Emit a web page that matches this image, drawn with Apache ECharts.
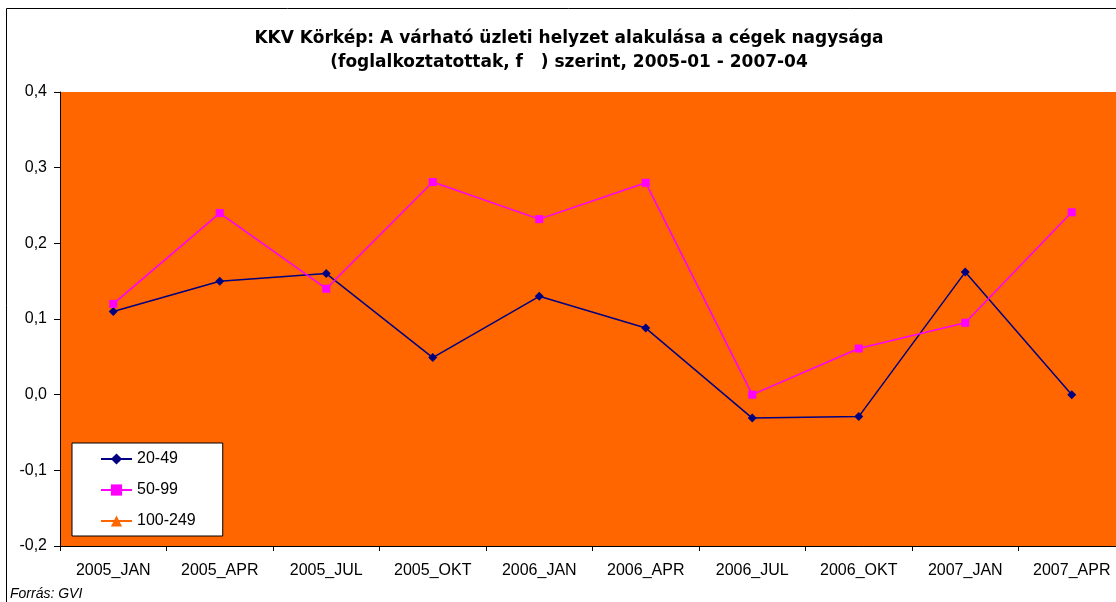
<!DOCTYPE html>
<html>
<head>
<meta charset="utf-8">
<script src="https://cdn.jsdelivr.net/npm/echarts@6/dist/echarts.min.js"></script>
<style>
  html, body { margin: 0; padding: 0; background: #fff; overflow: hidden; }
  #chart { width: 1130px; height: 602px; }
</style>
</head>
<body>
<div id="chart"></div>
<script>
// categories and series
var categories = ['2005_JAN', '2005_APR', '2005_JUL', '2005_OKT', '2006_JAN',
                  '2006_APR', '2006_JUL', '2006_OKT', '2007_JAN', '2007_APR'];
var s20_49  = [0.11, 0.15, 0.16, 0.049, 0.13, 0.088, -0.031, -0.029, 0.162, 0.0];
var s50_99  = [0.12, 0.24, 0.14, 0.281, 0.232, 0.28, 0.0, 0.061, 0.095, 0.241];
var s100_249 = [null, null, null, null, null, null, null, null, null, null];
var seriesNames = ['20-49', '50-99', '100-249'];

var font = 'Liberation Sans, Arial, sans-serif';
var titleFont = 'DejaVu Sans, sans-serif';

// the plot runs a little past the right edge of the window, as in the original
var chart = echarts.init(document.getElementById('chart'));

function fmt(v) {
    return v.toFixed(1).replace('.', ',');
}

var option = {
    animation: false,
    backgroundColor: '#fff',
    textStyle: { fontFamily: font, color: '#000' },
    title: {
        text: 'KKV Körkép: A várható üzleti helyzet alakulása a cégek nagysága\n(foglalkoztatottak, f   ) szerint, 2005-01 - 2007-04',
        left: 569,
        top: 27,
        textAlign: 'center',
        padding: 0,
        textStyle: { fontFamily: titleFont, fontSize: 17, fontWeight: 'bold', color: '#000', lineHeight: 24 }
    },
    graphic: [
        {
            type: 'rect', z: 0, silent: true,
            shape: { x: 6.5, y: 8.5, width: 1200, height: 700 },
            style: { fill: null, stroke: '#000', lineWidth: 1 }
        },
        {
            type: 'text', left: 10, top: 587,
            style: { text: 'Forrás: GVI', fontFamily: font, fontSize: 14, fontStyle: 'italic', fill: '#000' }
        }
    ],
    legend: {
        orient: 'vertical',
        left: 72,
        top: 443,
        data: seriesNames,
        backgroundColor: '#fff',
        borderColor: '#000',
        borderWidth: 1,
        padding: [8, 27, 7, 28],
        itemWidth: 31,
        itemHeight: 14,
        itemGap: 15,
        textStyle: { fontFamily: font, fontSize: 16, color: '#000' }
    },
    grid: {
        left: 60, top: 92, right: 5, bottom: 56,
        show: true, backgroundColor: '#FF6600', borderWidth: 0
    },
    xAxis: {
        type: 'category',
        data: categories,
        boundaryGap: true,
        axisLine: { onZero: false, lineStyle: { color: '#000', width: 1 } },
        axisTick: { show: true, length: 5, inside: false, lineStyle: { color: '#000' } },
        axisLabel: { fontFamily: font, fontSize: 16, color: '#000', margin: 17, interval: 0 },
        splitLine: { show: false }
    },
    yAxis: {
        type: 'value',
        min: -0.2,
        max: 0.4,
        interval: 0.1,
        axisLine: { show: true, lineStyle: { color: '#000', width: 1 } },
        axisTick: { show: true, length: 6, lineStyle: { color: '#000' } },
        axisLabel: { fontFamily: font, fontSize: 16, color: '#000', margin: 13, formatter: fmt },
        splitLine: { show: false }
    },
    series: [
        {
            name: seriesNames[0], type: 'line', data: s20_49,
            symbol: 'diamond', symbolSize: 9,
            itemStyle: { color: '#000080' },
            lineStyle: { color: '#000080', width: 1.5 }
        },
        {
            name: seriesNames[1], type: 'line', data: s50_99,
            symbol: 'rect', symbolSize: 8,
            itemStyle: { color: '#FF00FF' },
            lineStyle: { color: '#FF00FF', width: 1.5 }
        },
        {
            name: seriesNames[2], type: 'line', data: s100_249,
            symbol: 'triangle', symbolSize: 9,
            itemStyle: { color: '#FF6600' },
            lineStyle: { color: '#FF6600', width: 1.5 }
        }
    ]
};

chart.setOption(option);
</script>
</body>
</html>
